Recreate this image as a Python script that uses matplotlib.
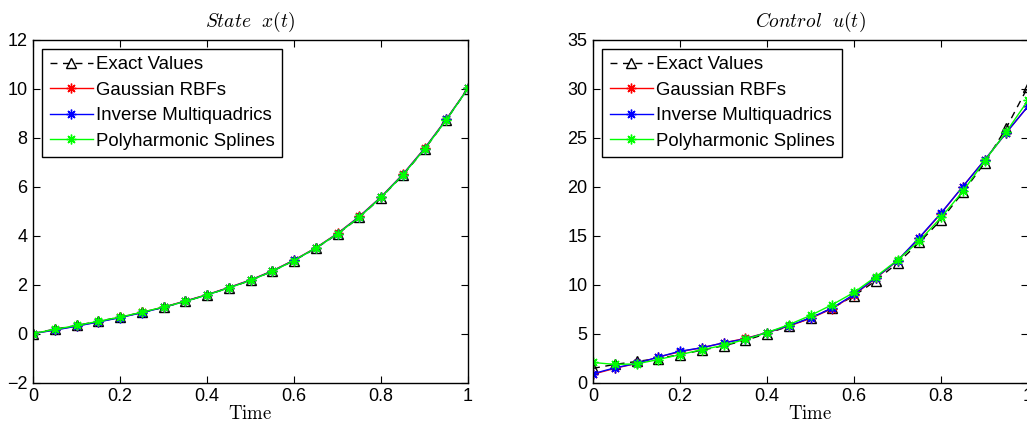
import matplotlib
matplotlib.use("Agg")
import matplotlib.pyplot as plt

plt.rcParams['font.family'] = ['Liberation Sans', 'DejaVu Sans']
plt.rcParams['mathtext.fontset'] = 'cm'

t = [0.0, 0.05, 0.1, 0.15, 0.2, 0.25, 0.3, 0.35, 0.4, 0.45, 0.5,
     0.55, 0.6, 0.65, 0.7, 0.75, 0.8, 0.85, 0.9, 0.95, 1.0]

# state x(t)
x_exact = [0.0, 0.18, 0.33, 0.5, 0.67, 0.86, 1.07, 1.31, 1.58, 1.86, 2.17,
           2.54, 2.98, 3.48, 4.06, 4.74, 5.55, 6.46, 7.52, 8.72, 10.0]
x_gauss = [0.0, 0.15, 0.31, 0.48, 0.66, 0.86, 1.08, 1.33, 1.59, 1.88, 2.19,
           2.56, 3.0, 3.5, 4.09, 4.78, 5.58, 6.5, 7.56, 8.75, 10.02]
x_imq = [0.0, 0.14, 0.3, 0.47, 0.65, 0.85, 1.07, 1.32, 1.58, 1.87, 2.18,
         2.55, 2.99, 3.49, 4.08, 4.77, 5.57, 6.49, 7.55, 8.74, 10.01]
x_phs = [0.0, 0.17, 0.33, 0.5, 0.67, 0.87, 1.08, 1.31, 1.58, 1.86, 2.17,
         2.54, 2.98, 3.49, 4.07, 4.75, 5.56, 6.47, 7.53, 8.72, 10.01]

# control u(t)
u_exact = [1.45, 1.85, 2.15, 2.45, 2.85, 3.3, 3.75, 4.3, 5.0, 5.75, 6.6,
           7.6, 8.85, 10.4, 12.2, 14.3, 16.6, 19.4, 22.4, 26.0, 30.2]
u_gauss = [0.85, 1.45, 1.95, 2.6, 3.15, 3.55, 4.05, 4.5, 5.1, 5.75, 6.55,
           7.55, 8.95, 10.65, 12.45, 14.75, 17.25, 20.0, 22.7, 25.5, 28.2]
u_imq = [0.9, 1.5, 1.95, 2.6, 3.2, 3.55, 4.05, 4.45, 5.1, 5.8, 6.6,
         7.6, 9.0, 10.7, 12.45, 14.8, 17.3, 20.0, 22.7, 25.5, 28.2]
u_phs = [2.05, 1.85, 1.9, 2.35, 2.85, 3.35, 3.8, 4.4, 5.1, 5.9, 6.85,
         7.95, 9.2, 10.8, 12.5, 14.45, 16.85, 19.5, 22.6, 25.6, 28.8]

panels = [
    ('$State\\ \\ x(t)$', x_exact, x_gauss, x_imq, x_phs, (-2, 12), [-2, 0, 2, 4, 6, 8, 10, 12]),
    ('$Control\\ \\ u(t)$', u_exact, u_gauss, u_imq, u_phs, (0, 35), [0, 5, 10, 15, 20, 25, 30, 35]),
]

star = (8, 2, 0)  # matlab style asterisk

fig = plt.figure(figsize=(10.27, 4.26), dpi=100)
lefts = [33 / 1027, 593 / 1027]

for left, (title, ex, g, im, ph, ylim, yt) in zip(lefts, panels):
    ax = fig.add_axes([left, 0.102, 0.4236, 0.805])
    ax.plot(t, ex, '--', color='black', marker='^', mfc='none', mec='black',
            ms=7, lw=1, label='Exact Values', dashes=(5, 4))
    ax.plot(t, g, '-', color='red', marker=star, ms=7, mew=1, lw=1, label='Gaussian RBFs')
    ax.plot(t, im, '-', color='blue', marker=star, ms=7, mew=1, lw=1, label='Inverse Multiquadrics')
    ax.plot(t, ph, '-', color=(0, 1, 0), marker=star, ms=7, mew=1, lw=1, label='Polyharmonic Splines')
    ax.set_xlim(0, 1)
    ax.set_ylim(*ylim)
    ax.set_xticks([0, 0.2, 0.4, 0.6, 0.8, 1])
    ax.set_xticklabels(['0', '0.2', '0.4', '0.6', '0.8', '1'])
    ax.set_yticks(yt)
    ax.tick_params(direction='in', top=True, right=True, length=5, width=0.8,
                   labelsize=13, pad=4)
    for s in ax.spines.values():
        s.set_linewidth(1.0)
    ax.set_title(title, fontsize=14, pad=9)
    ax.set_xlabel('$\\mathrm{Time}$', fontsize=13.5, labelpad=0)
    leg = ax.legend(loc='upper left', fontsize=13.4, fancybox=False, framealpha=1,
                    edgecolor='black', handlelength=2.3, handletextpad=0.2,
                    labelspacing=0.45, borderaxespad=0.5, borderpad=0.4)
    leg.get_frame().set_linewidth(1.0)

fig.savefig('out.png', dpi=100)
